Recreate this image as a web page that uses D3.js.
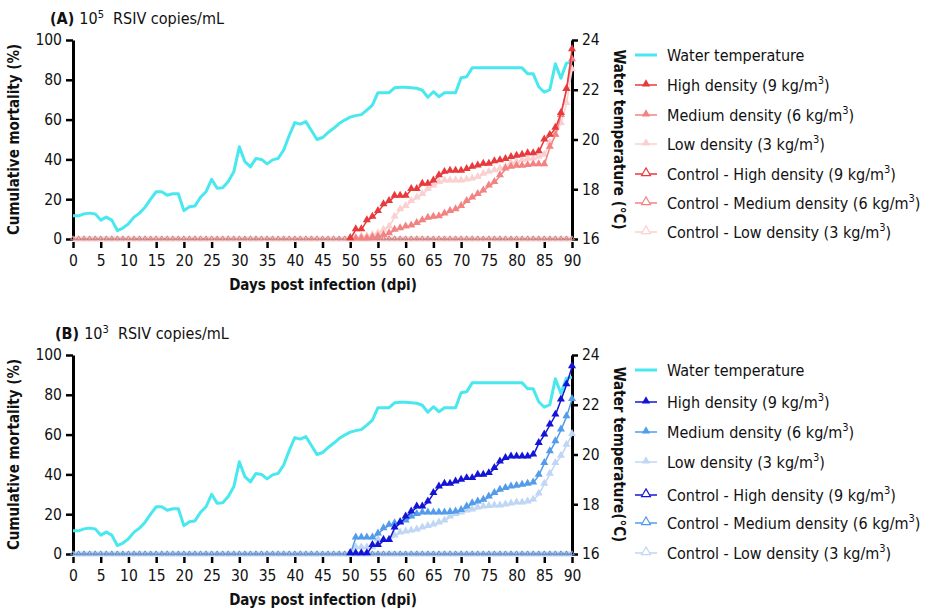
<!DOCTYPE html>
<html>
<head>
<meta charset="utf-8">
<script src="https://cdn.jsdelivr.net/npm/d3@7"></script>
<style>
  html, body { margin: 0; padding: 0; background: #fff; }
  svg { display: block; }
</style>
</head>
<body>
<svg id="chart" width="932" height="615"></svg>
<script>
// ---------------- DATA ----------------
const days = d3.range(0, 91);            // 0..90 dpi
const infDays = d3.range(50, 91);        // 50..90 dpi (infected series plotted)
const xTicks = d3.range(0, 91, 5);
const mortTicks = [0, 20, 40, 60, 80, 100];
const tempTicks = [16, 18, 20, 22, 24];

// Water temperature (°C), day 0..90
const waterTemp = [
  16.93, 16.93, 17.01, 17.04, 17.01, 16.76, 16.88, 16.76, 16.34, 16.44,
  16.61, 16.88, 17.04, 17.28, 17.60, 17.90, 17.90, 17.76, 17.82, 17.82,
  17.14, 17.30, 17.33, 17.68, 17.90, 18.40, 18.04, 18.06, 18.31, 18.70,
  19.71, 19.11, 18.90, 19.24, 19.20, 19.02, 19.18, 19.24, 19.58, 20.16,
  20.68, 20.62, 20.72, 20.36, 20.00, 20.08, 20.28, 20.45, 20.64, 20.78,
  20.90, 20.96, 21.00, 21.18, 21.38, 21.88, 21.88, 21.88, 22.08, 22.10,
  22.10, 22.08, 22.06, 21.98, 21.70, 21.92, 21.72, 21.88, 21.88, 21.88,
  22.48, 22.52, 22.88, 22.88, 22.88, 22.88, 22.88, 22.88, 22.88, 22.88,
  22.88, 22.88, 22.64, 22.64, 22.12, 21.90, 22.00, 23.04, 22.46, 23.07,
  23.10
];

// Panel A: 10^5 RSIV copies/mL, cumulative mortality (%), day 50..90
const highA = [0, 4.6, 4.6, 9.1, 10.8, 13.7, 17.1, 18.8, 21.4, 21.4,
  21.4, 24.8, 24.8, 27.4, 27.4, 29.1, 31.7, 33.4, 34, 34,
  34, 34.8, 36, 36.6, 37.5, 37.5, 38.7, 39.2, 39.9, 40.9,
  41.5, 42, 42.8, 42.8, 43.7, 49.7, 52, 55.6, 63, 75, 95];
const mediumA = [0, 0, 0, 0, 0.5, 0.9, 1.7, 2.6, 4.3, 5.1,
  6, 6.5, 7.7, 9.1, 10.3, 10.8, 11.1, 12.5, 13.7, 14.6,
  16.3, 18.8, 20.5, 22.3, 24, 26.5, 28.3, 31.7, 35.1, 36,
  36.5, 36.5, 36.8, 37.2, 37.2, 37.2, 46, 52, 62, 75, 90];
const lowA = [0, 0, 1, 1, 1.7, 2.6, 4.3, 6, 11, 14.6,
  16.3, 18.8, 20.5, 22.3, 24.8, 26.5, 28.3, 29.1, 29.1, 29.1,
  29.1, 29.5, 30, 30.8, 32.5, 33.4, 34.2, 35.1, 36, 37.7,
  38.5, 39.4, 40, 40.2, 41, 42, 48, 52, 58, 68, 85];

// Panel B: 10^3 RSIV copies/mL, day 50..90
const highB = [0, 0, 0, 0, 4.2, 4.2, 6.7, 6.7, 13, 15.5,
  18.5, 21, 23.5, 23.5, 26, 30.3, 33.6, 35, 35, 36.1,
  37, 37.8, 37.8, 39.5, 39.5, 40.3, 42.9, 46.2, 47.9, 48.7,
  48.7, 48.7, 48.7, 49.6, 55.5, 59.7, 64.7, 69.7, 77.3, 84.9, 94];
const mediumB = [0, 8, 8, 8, 8, 10, 12.6, 14.3, 15.1, 15.8,
  16.5, 18.5, 19.8, 20.5, 20.5, 20.5, 20.5, 20.5, 20.8, 21,
  21.8, 23.5, 25.2, 26, 26.9, 28.6, 30.3, 32, 32.8, 33.6,
  34, 34.5, 35, 35.6, 39.5, 45.4, 51.3, 56.3, 62.2, 68.9, 77.6];
const lowB = [0, 3, 3, 3, 3, 7, 7, 7, 9, 10.5,
  11, 11.5, 12, 13, 13.7, 14.5, 15.5, 16.5, 18.5, 19.8,
  20.5, 21.5, 22, 23, 23.5, 23.8, 24, 24, 24.5, 25,
  25.5, 25.5, 26, 27, 30, 35, 40, 45.4, 49, 54.6, 60];

// Controls: no mortality, day 0..90
const controlHigh = days.map(() => 0);
const controlMedium = days.map(() => 0);
const controlLow = days.map(() => 0);

const legendLabels = [
  ["Water temperature", null, ""],
  ["High density (9 kg/m", "3", ")"],
  ["Medium density (6 kg/m", "3", ")"],
  ["Low density (3 kg/m", "3", ")"],
  ["Control - High density (9 kg/m", "3", ")"],
  ["Control - Medium density (6 kg/m", "3", ")"],
  ["Control - Low density (3 kg/m", "3", ")"]
];

// ---------------- DRAW ----------------
const FONT = "'DejaVu Sans Condensed', 'DejaVu Sans', sans-serif";
const svg = d3.select("#chart");
const cyan = "#48E8EE";

const panels = [
  {
    letter: "(A)", exp: "5", top: 40, bottom: 239, titleX: 50,
    colors: ["#E8393C", "#F38383", "#FAD0D0"],
    band: "#F9CFCF", dot: "#9a6a6a",
    series: [highA, mediumA, lowA],
    rightTitle: "Water temperature (°C)",
    legendY: [55, 85, 115, 144, 174, 203, 232]
  },
  {
    letter: "(B)", exp: "3", top: 355, bottom: 554, titleX: 55,
    colors: ["#1414D6", "#529CEA", "#BFD6F4"],
    band: "#BCD3F2", dot: "#5a6f9a",
    series: [highB, mediumB, lowB],
    rightTitle: "Water temperature(°C)",
    legendY: [370, 402, 432, 462, 495, 523, 553]
  }
];

const x = d3.scaleLinear().domain([0, 90]).range([73, 572]);
const tri = d3.symbol().type(d3.symbolTriangle);

panels.forEach(p => {
  const g = svg.append("g");
  const yM = d3.scaleLinear().domain([0, 100]).range([p.bottom, p.top]);
  const yT = d3.scaleLinear().domain([16, 24]).range([p.bottom, p.top]);

  // Title
  const t = g.append("text").attr("x", p.titleX).attr("y", p.top - 16)
    .attr("font-family", FONT).attr("font-size", 16).attr("fill", "#111");
  t.append("tspan").attr("font-weight", "bold").text(p.letter + " ");
  t.append("tspan").text("10");
  t.append("tspan").attr("font-size", 11).attr("dy", -6).text(p.exp);
  t.append("tspan").attr("dy", 6).text("\u00a0\u00a0RSIV copies/mL");

  // X axis (ticks only; line hidden under zero band)
  const xAx = g.append("g").attr("transform", `translate(0,${p.bottom + 3})`)
    .call(d3.axisBottom(x).tickValues(xTicks).tickSize(6).tickSizeOuter(0).tickPadding(7));
  xAx.select(".domain").remove();
  xAx.selectAll(".tick line").attr("stroke", "#000").attr("stroke-width", 2.5);
  xAx.selectAll(".tick text").attr("font-family", FONT).attr("font-size", 15.5).attr("fill", "#111");

  // Left axis
  const lAx = g.append("g").attr("transform", "translate(73,0)")
    .call(d3.axisLeft(yM).tickValues(mortTicks).tickSize(7).tickSizeOuter(0).tickPadding(4));
  lAx.select(".domain").attr("stroke-width", 3).attr("stroke", "#000");
  lAx.selectAll(".tick line").attr("stroke-width", 2.5);
  lAx.selectAll(".tick text").attr("font-family", FONT).attr("font-size", 15.5).attr("fill", "#111");

  // Right axis
  const rAx = g.append("g").attr("transform", "translate(572,0)")
    .call(d3.axisRight(yT).tickValues(tempTicks).tickSize(6).tickSizeOuter(0).tickPadding(4));
  rAx.select(".domain").attr("stroke-width", 3).attr("stroke", "#000");
  rAx.selectAll(".tick line").attr("stroke-width", 2.5);
  rAx.selectAll(".tick text").attr("font-family", FONT).attr("font-size", 15.5).attr("fill", "#111");

  // Axis titles
  const midY = (p.top + p.bottom) / 2;
  g.append("text").attr("transform", `translate(19,${midY}) rotate(-90)`)
    .attr("text-anchor", "middle").attr("font-family", FONT).attr("font-weight", "bold")
    .attr("font-size", 15).attr("fill", "#111").text("Cumulative mortality (%)");
  g.append("text").attr("transform", `translate(614,${midY}) rotate(90)`)
    .attr("text-anchor", "middle").attr("font-family", FONT).attr("font-weight", "bold")
    .attr("font-size", 15).attr("fill", "#111").text(p.rightTitle);
  g.append("text").attr("x", 323).attr("y", p.bottom + 51)
    .attr("text-anchor", "middle").attr("font-family", FONT).attr("font-weight", "bold")
    .attr("font-size", 15).attr("fill", "#111").text("Days post infection (dpi)");

  // Controls (zero lines with hollow triangles)
  const ctrl = [controlHigh, controlMedium, controlLow];
  const lineCtrl = d3.line().x((d, i) => x(days[i])).y(d => yM(d));
  g.append("path").datum(ctrl[2]).attr("d", lineCtrl)
    .attr("fill", "none").attr("stroke", p.band).attr("stroke-width", 5);
  g.append("path").datum(ctrl[1]).attr("d", lineCtrl)
    .attr("fill", "none").attr("stroke", p.colors[1]).attr("stroke-width", 1);
  g.append("path").datum(ctrl[0]).attr("d", lineCtrl)
    .attr("fill", "none").attr("stroke", p.dot).attr("stroke-width", 1.2)
    .attr("stroke-dasharray", "1.2,2.3");
  [2, 1, 0].forEach(k => {
    g.append("g").selectAll("path").data(ctrl[k]).join("path")
      .attr("transform", (d, i) => `translate(${x(days[i])},${yM(d) - 0.5})`)
      .attr("d", tri.size(9)())
      .attr("fill", "none").attr("stroke", k === 0 ? p.dot : p.colors[k])
      .attr("stroke-width", 0.6).attr("opacity", 0.8);
  });

  // Water temperature
  g.append("path").datum(waterTemp)
    .attr("d", d3.line().x((d, i) => x(days[i])).y(d => yT(d)))
    .attr("fill", "none").attr("stroke", cyan).attr("stroke-width", 3)
    .attr("stroke-linejoin", "round");

  // Infected series: draw low, medium, high (high on top)
  const lineInf = d3.line().x((d, i) => x(infDays[i])).y(d => yM(d));
  [2, 1, 0].forEach(k => {
    const s = p.series[k];
    g.append("path").datum(s).attr("d", lineInf)
      .attr("fill", "none").attr("stroke", p.colors[k]).attr("stroke-width", 1.5);
    g.append("g").selectAll("path").data(s).join("path")
      .attr("transform", (d, i) => `translate(${x(infDays[i])},${yM(d) - 1})`)
      .attr("d", tri.size(28)())
      .attr("fill", p.colors[k]);
  });

  // Legend
  const lg = g.append("g");
  legendLabels.forEach((lab, i) => {
    const yy = p.legendY[i];
    const row = lg.append("g").attr("transform", `translate(0,${yy})`);
    if (i === 0) {
      row.append("line").attr("x1", 635).attr("x2", 657).attr("y1", 0).attr("y2", 0)
        .attr("stroke", cyan).attr("stroke-width", 3);
    } else {
      const k = (i - 1) % 3;
      const control = i >= 4;
      row.append("line").attr("x1", 635).attr("x2", 657).attr("y1", 0).attr("y2", 0)
        .attr("stroke", p.colors[k]).attr("stroke-width", 1.5);
      row.append("path").attr("transform", "translate(646,-1)")
        .attr("d", tri.size(control ? 34 : 30)())
        .attr("fill", control ? "#fff" : p.colors[k])
        .attr("stroke", p.colors[k]).attr("stroke-width", control ? 1.2 : 0);
    }
    const tx = row.append("text").attr("x", 667).attr("y", 5.5)
      .attr("font-family", FONT).attr("font-size", 16).attr("fill", "#111");
    tx.append("tspan").text(lab[0]);
    if (lab[1]) {
      tx.append("tspan").attr("font-size", 11).attr("dy", -7).text(lab[1]);
      tx.append("tspan").attr("dy", 7).text(lab[2]);
    }
  });
});
</script>
</body>
</html>
